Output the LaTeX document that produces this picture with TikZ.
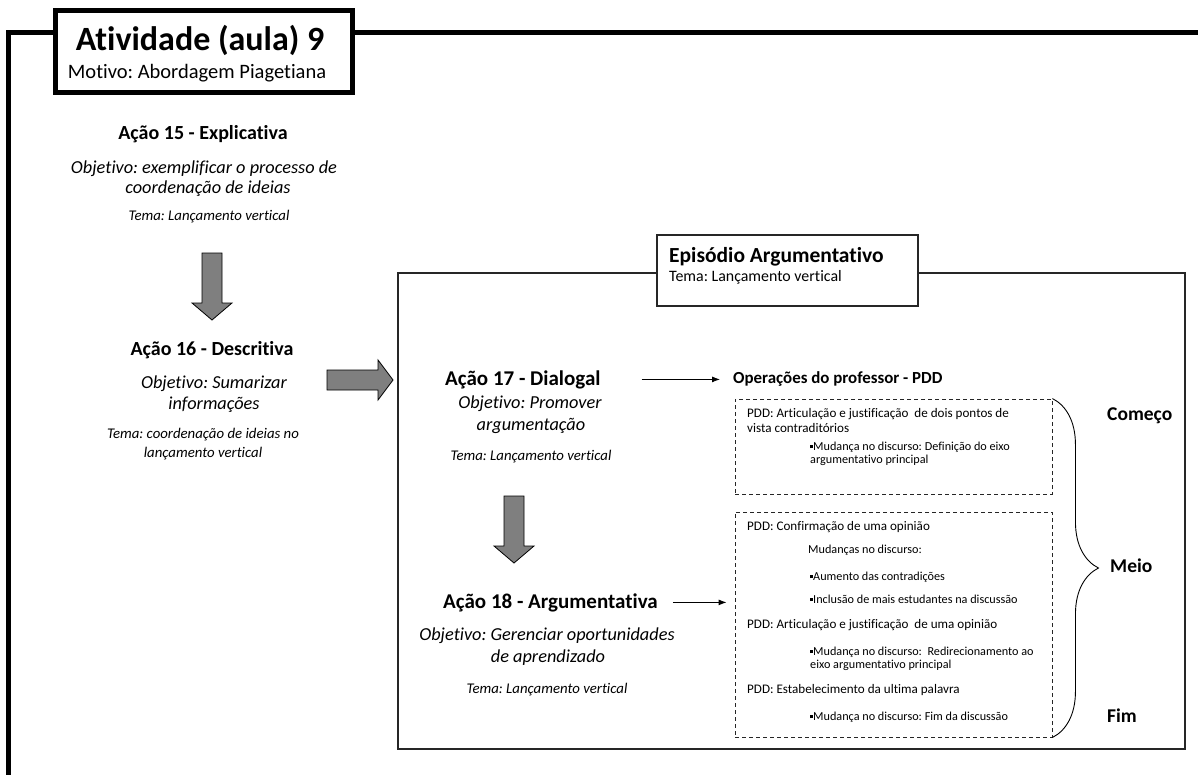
\documentclass[tikz,border=0pt]{standalone}
\usepackage{fontspec}
\setmainfont{Carlito}[Ligatures=NoCommon]
\usetikzlibrary{arrows.meta,decorations.pathreplacing}
\definecolor{arrowgray}{HTML}{7F7F7F}
\definecolor{boxline}{HTML}{262626}
\newcommand\sqbul{\rule[2pt]{3pt}{3pt}}
\newcommand\fsz[1]{\fontsize{#1}{#1}\selectfont}
\frenchspacing

\begin{document}
\begin{tikzpicture}[x=1pt,y=-1pt,
  txt/.style={anchor=base,inner sep=0pt},
  txtl/.style={anchor=base west,inner sep=0pt},
  acao/.style={txt,font=\fsz{20}\bfseries},
  acaor/.style={txtl,font=\fsz{21}\bfseries},
  obj/.style={txt,font=\fsz{18.3}\itshape},
  tema/.style={txt,font=\fsz{14.8}\itshape},
  pdd/.style={txtl,font=\fsz{13.1}},
  mud/.style={txtl,font=\fsz{12.2}},
  fase/.style={txtl,font=\fsz{19.5}\bfseries},
  frame/.style={line width=5pt},
  bigarrow/.style={draw=black,line width=0.8pt,fill=arrowgray},
  tarrow/.style={-{Latex[length=8pt,width=6pt]},line width=0.9pt},
  dbox/.style={draw=boxline,line width=0.9pt,dash pattern=on 4pt off 3pt,inner sep=0pt}]
\useasboundingbox (0,0) rectangle (1198,774);

% moldura da atividade
\node [draw,frame,inner sep=0pt,minimum width=297,minimum height=82] (tbox) at (203.5,51) {};
\draw [frame] (tbox.west |- 0,32) -- (8,32) -- (8,790);
\draw [frame] (tbox.east |- 0,32) -- (1210,32);
\node [txt,font=\fsz{34}\bfseries] (tit) at (200,50) {Atividade (aula) 9};
\node [txt,font=\fsz{20.5}] (mot) at (197,78) {Motivo: Abordagem Piagetiana};

% acoes 15 e 16
\node [acao] (a15) at (203,139) {Ação 15 - Explicativa};
\node [obj] (o15a) at (204,173) {Objetivo: exemplificar o processo de};
\node [obj] (o15b) at (208,193) {coordenação de ideias};
\node [tema] (t15) at (209,220) {Tema: Lançamento vertical};
\draw [bigarrow] (202,253) -- (222,253) -- (222,303) -- (232,303) -- (212,320)
  -- (192,303) -- (202,303) -- cycle;
\node [acao] (a16) at (212,355) {Ação 16 - Descritiva};
\node [obj] (o16a) at (214,388) {Objetivo: Sumarizar};
\node [obj] (o16b) at (214,409) {informações};
\node [tema] (t16a) at (203,438) {Tema: coordenação de ideias no};
\node [tema] (t16b) at (203,457) {lançamento vertical};
\draw [bigarrow] (327,370) -- (378,370) -- (378,360) -- (393,380) -- (378,400)
  -- (378,390) -- (327,390) -- cycle;

% episodio argumentativo
\draw [draw=boxline,line width=1.4pt] (398,273) rectangle (1185,749);
\node [draw=boxline,line width=1.4pt,fill=white,inner sep=0pt,minimum width=261,
  minimum height=71] (ebox) at (787.5,270.5) {};
\node [txtl,font=\fsz{21.5}\bfseries] (etit) at (669,262) {Episódio Argumentativo};
\node [txtl,font=\fsz{15.9}] (etema) at (669,281) {Tema: Lançamento vertical};

\node [acaor] (a17) at (445,385) {Ação 17 - Dialogal};
\node [obj] (o17a) at (530,408) {Objetivo: Promover};
\node [obj] (o17b) at (531,430) {argumentação};
\node [tema] (t17) at (531,460) {Tema: Lançamento vertical};
\draw [bigarrow] (504,496) -- (524,496) -- (524,546) -- (534,546) -- (514,563)
  -- (494,546) -- (504,546) -- cycle;
\node [acaor] (a18) at (443,608) {Ação 18 - Argumentativa};
\node [obj] (o18a) at (547,640) {Objetivo: Gerenciar oportunidades};
\node [obj] (o18b) at (548,662) {de aprendizado};
\node [tema] (t18) at (547,693) {Tema: Lançamento vertical};

\node [txtl,font=\fsz{16.9}\bfseries] (ops) at (733,383) {Operações do professor - PDD};
\draw [tarrow] ([xshift=41pt]a17.east) -- ([xshift=-13pt]a17.east -| ops.west);

% operacoes PDD
\node [dbox,minimum width=317,minimum height=95] (box1) at (893.5,446.5) {};
\node [pdd] (p1a) at (747,417) {PDD: Articulação e justificação\ \ de dois pontos de};
\node [pdd] (p1b) at (747,432) {vista contraditórios};
\node [mud] (m1a) at (810,450) {\sqbul Mudança no discurso: Definição do eixo};
\node [mud] (m1b) at (810,463) {argumentativo principal};

\node [dbox,minimum width=317,minimum height=225] (box2) at (893.5,624.5) {};
\draw [tarrow] ([xshift=15pt]a18.east) -- ([xshift=-8pt]a18.east -| box2.west);
\node [pdd] (p2) at (747,530) {PDD: Confirmação de uma opinião};
\node [mud] (m2) at (808,553) {Mudanças no discurso:};
\node [mud] (m2a) at (810,580) {\sqbul Aumento das contradições};
\node [mud] (m2b) at (810,603) {\sqbul Inclusão de mais estudantes na discussão};
\node [pdd] (p3) at (747,628) {PDD: Articulação e justificação\ \ de uma opinião};
\node [mud] (m3a) at (810,655) {\sqbul Mudança no discurso:\ \ Redirecionamento ao};
\node [mud] (m3b) at (810,668) {eixo argumentativo principal};
\node [pdd] (p4) at (747,693) {PDD: Estabelecimento da ultima palavra};
\node [mud] (m4) at (810,720) {\sqbul Mudança no discurso: Fim da discussão};

\draw [line width=0.9pt,decorate,decoration={brace,amplitude=46pt}]
  (box1.north east) -- (box2.south east);
\node [fase] (com) at (1107,420) {Começo};
\node [fase] (mei) at (1110,572) {Meio};
\node [fase] (fim) at (1107,722) {Fim};
\end{tikzpicture}
\end{document}
